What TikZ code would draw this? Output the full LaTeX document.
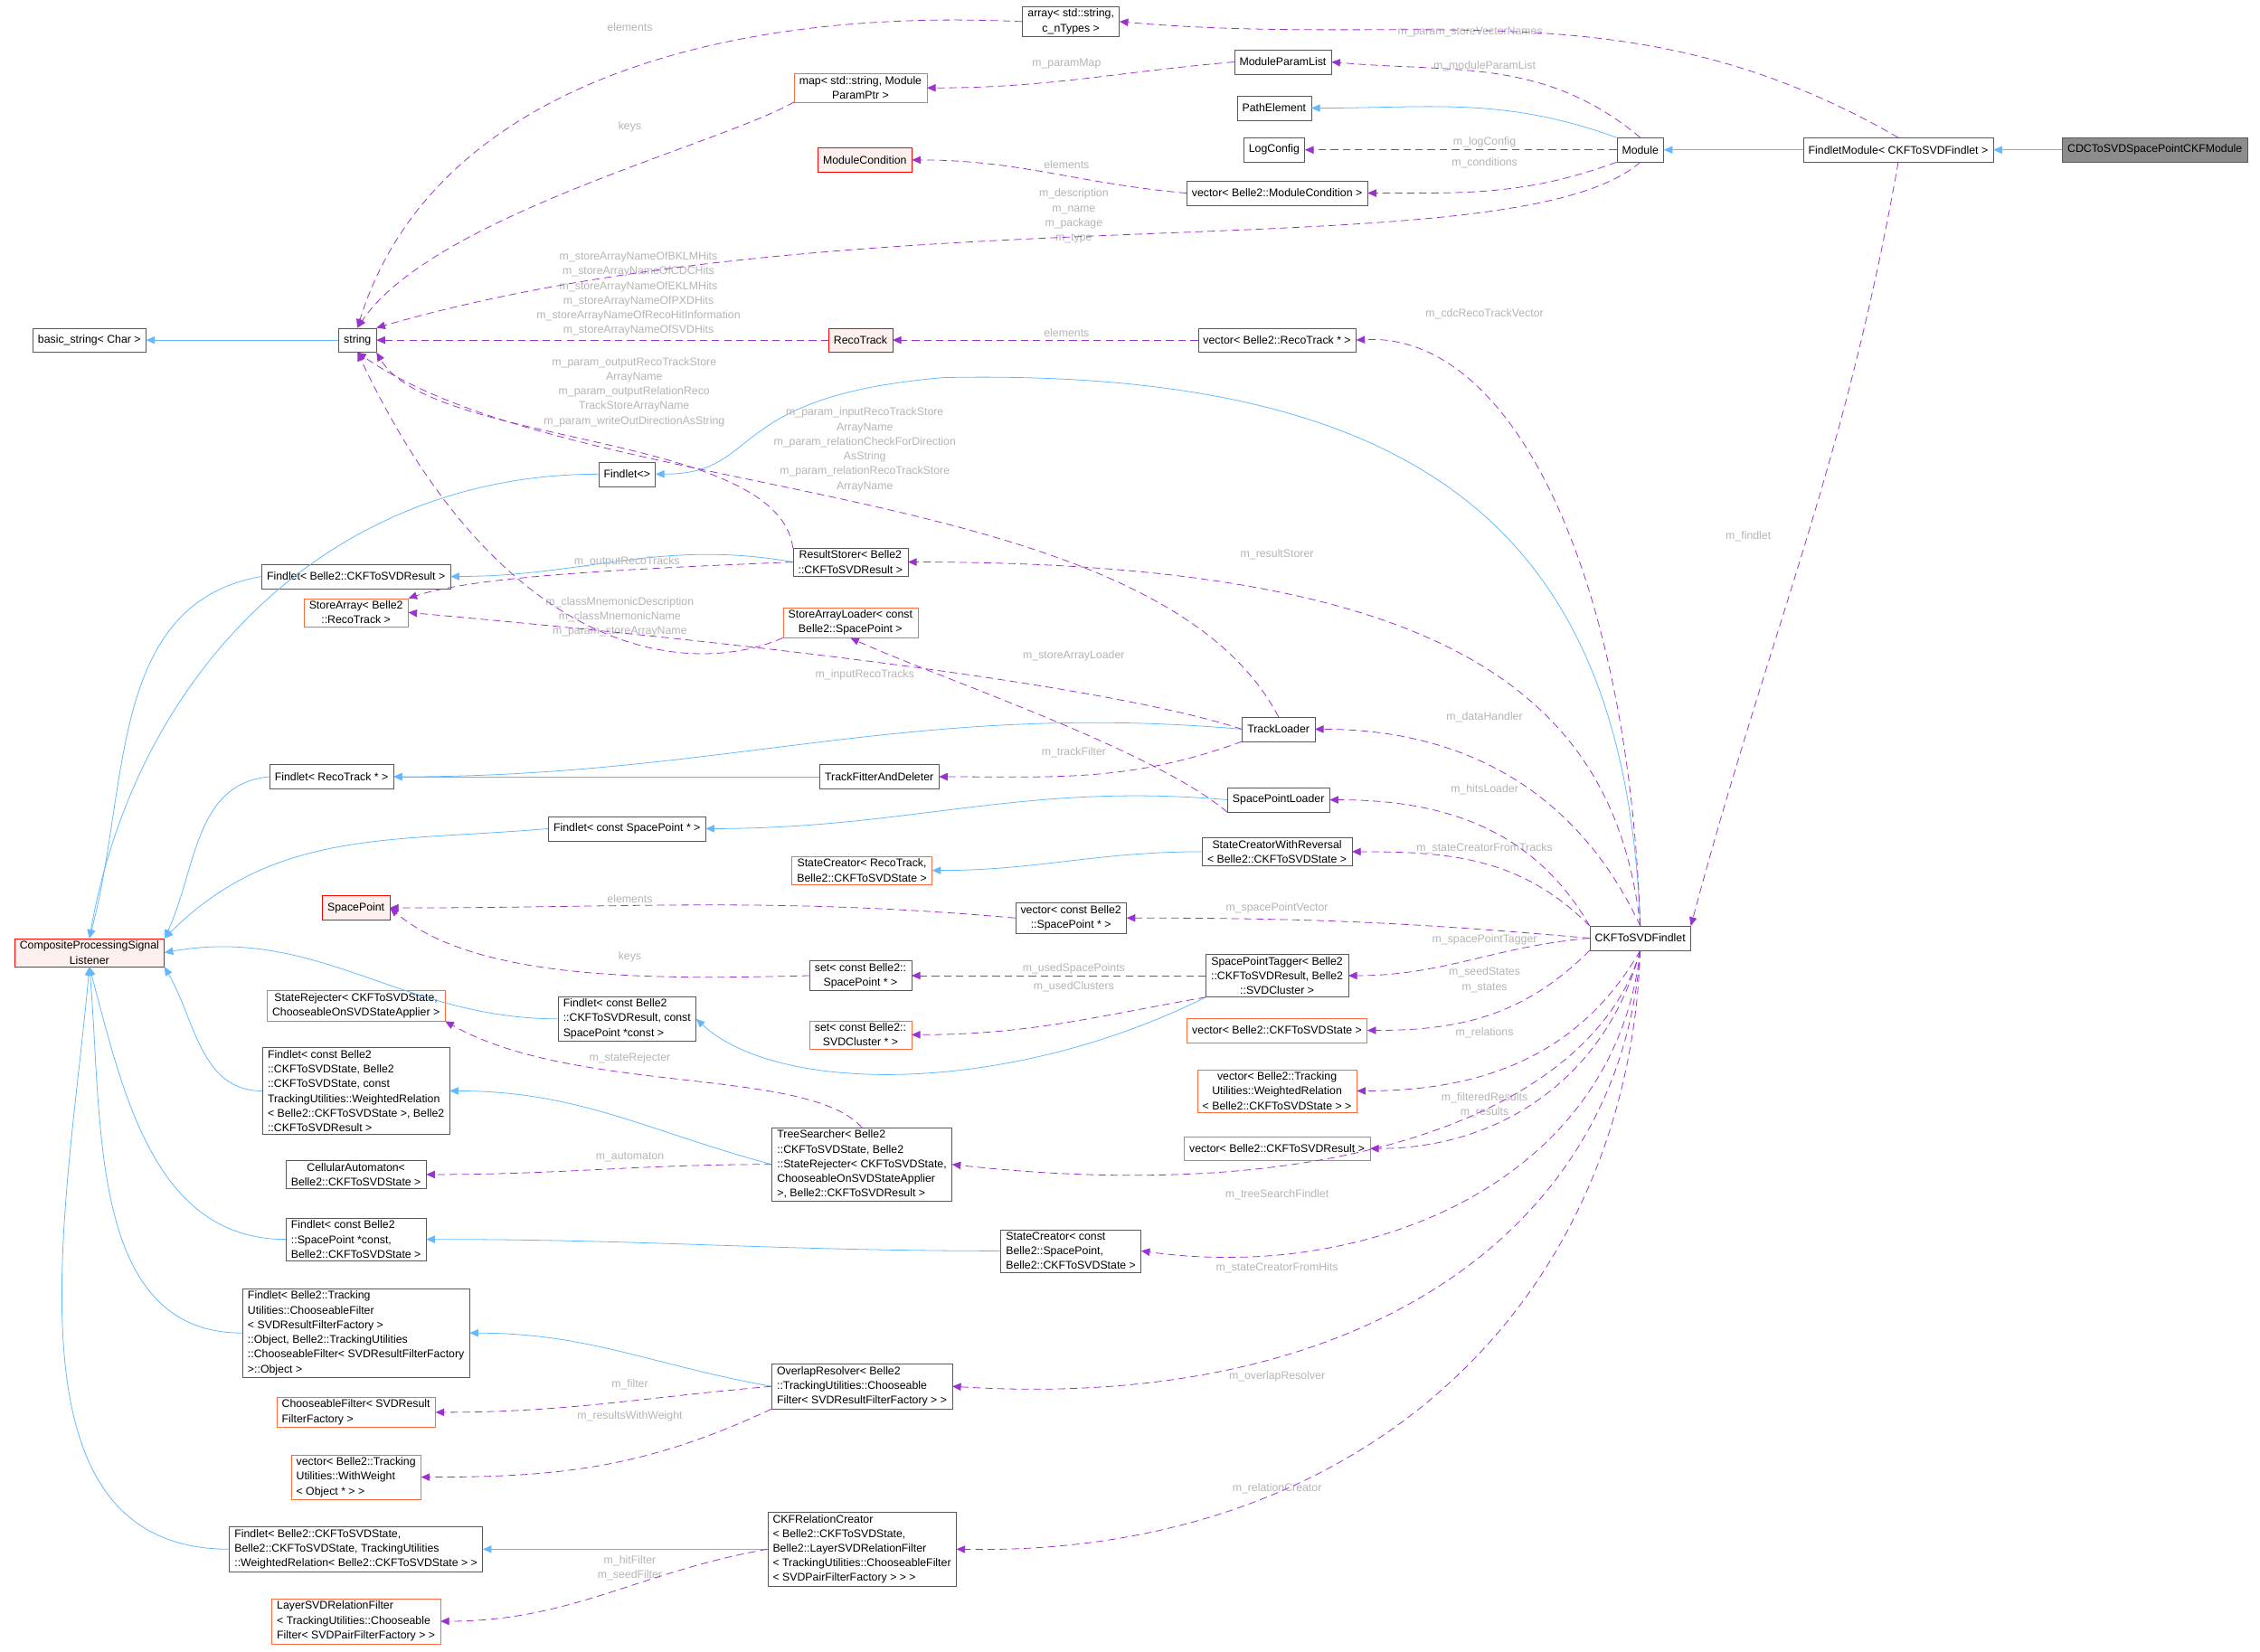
\documentclass[tikz,border=0pt]{standalone}
\usepackage{fontspec}
\setmainfont{Liberation Sans}
\usetikzlibrary{arrows.meta,positioning}
\definecolor{inhblue}{HTML}{63B8FF}
\definecolor{usepurple}{HTML}{9A32CD}
\definecolor{extorange}{HTML}{FF6B3D}
\definecolor{lblgray}{HTML}{B4B4B4}
\tikzset{
  box/.style={draw=black!65, fill=white, minimum height=8.4mm, inner xsep=1.8mm, inner ysep=0.9mm,
    align=center, font=\fontsize{11}{14.5}\selectfont},
  lbox/.style={box, align=left},
  ext/.style={box, draw=extorange},
  lext/.style={ext, align=left},
  bad/.style={box, draw=red, fill=red!6},
  cur/.style={box, fill=black!45},
  inh/.style={draw=inhblue, line width=0.7pt, -{Triangle[length=3mm,width=2.6mm]}},
  use/.style={draw=usepurple, line width=0.7pt, dash pattern=on 2.6mm off 1.6mm,
    -{Triangle[length=3mm,width=2.6mm]}},
  lbl/.style={text=lblgray, align=center, font=\fontsize{11}{14.5}\selectfont, inner sep=0pt}
}
\begin{document}
\begin{tikzpicture}[x=0.05cm,y=-0.05cm]
  \useasboundingbox (0,0) rectangle (1568,1146);

  % top row
  \node[cur] (cdc) at (1495,104) {CDCToSVDSpacePointCKFModule};
  \node[box] (fm) at (1317,104) {FindletModule< CKFToSVDFindlet >};
  \node[box] (mod) at (1138,104) {Module};
  \node[box] (arr) at (743,15) {array< std::string,\\c\_nTypes >};
  \node[box] (mpl) at (890,43) {ModuleParamList};
  \node[ext] (map) at (597,61) {map< std::string, Module\\ParamPtr >};
  \node[box] (pe) at (884,75) {PathElement};
  \node[box] (lc) at (884,104) {LogConfig};
  \node[bad] (mc) at (600,111) {ModuleCondition};
  \node[box] (vmc) at (886,134) {vector< Belle2::ModuleCondition >};
  \node[box] (bs) at (62,236) {basic\_string< Char >};
  \node[box] (str) at (248,236) {string};
  \node[bad] (rt) at (597,236) {RecoTrack};
  \node[box] (vrt) at (886,236) {vector< Belle2::RecoTrack * >};

  % middle
  \node[box] (fl) at (435,329) {Findlet<>};
  \node[box] (rs) at (590,390) {ResultStorer< Belle2\\::CKFToSVDResult >};
  \node[box] (fres) at (247,400) {Findlet< Belle2::CKFToSVDResult >};
  \node[ext] (sal) at (590,432) {StoreArrayLoader< const\\Belle2::SpacePoint >};
  \node[ext] (sa) at (247,425) {StoreArray< Belle2\\::RecoTrack >};
  \node[box] (tl) at (887,506) {TrackLoader};
  \node[box] (tfd) at (610,539) {TrackFitterAndDeleter};
  \node[box] (frt) at (230,539) {Findlet< RecoTrack * >};
  \node[box] (spl) at (887,555) {SpacePointLoader};
  \node[box] (fsp) at (435,575) {Findlet< const SpacePoint * >};
  \node[box] (scr) at (886,591) {StateCreatorWithReversal\\< Belle2::CKFToSVDState >};
  \node[ext] (scrt) at (598,604) {StateCreator< RecoTrack,\\Belle2::CKFToSVDState >};
  \node[bad] (sp) at (247,630) {SpacePoint};
  \node[box] (vsp) at (743,637) {vector< const Belle2\\::SpacePoint * >};
  \node[bad] (cpsl) at (62,661) {CompositeProcessingSignal\\Listener};
  \node[box] (ckf) at (1138,651) {CKFToSVDFindlet};
  \node[box] (ssp) at (597,677) {set< const Belle2::\\SpacePoint * >};
  \node[box] (spt) at (886,677) {SpacePointTagger< Belle2\\::CKFToSVDResult, Belle2\\::SVDCluster >};
  \node[ext] (srj) at (247,698) {StateRejecter< CKFToSVDState,\\ChooseableOnSVDStateApplier >};
  \node[lbox] (fcr) at (435,707) {Findlet< const Belle2\\::CKFToSVDResult, const\\SpacePoint *const >};
  \node[ext] (ssc) at (597,718) {set< const Belle2::\\SVDCluster * >};
  \node[ext] (vst) at (886,715) {vector< Belle2::CKFToSVDState >};
  \node[ext] (vwr) at (886,757) {vector< Belle2::Tracking\\Utilities::WeightedRelation\\< Belle2::CKFToSVDState > >};
  \node[lbox] (fcs) at (247,757) {Findlet< const Belle2\\::CKFToSVDState, Belle2\\::CKFToSVDState, const\\TrackingUtilities::WeightedRelation\\< Belle2::CKFToSVDState >, Belle2\\::CKFToSVDResult >};
  \node[ext] (vres) at (886,797) {vector< Belle2::CKFToSVDResult >};
  \node[lbox] (ts) at (598,808) {TreeSearcher< Belle2\\::CKFToSVDState, Belle2\\::StateRejecter< CKFToSVDState,\\ChooseableOnSVDStateApplier\\>, Belle2::CKFToSVDResult >};
  \node[box] (ca) at (247,815) {CellularAutomaton<\\Belle2::CKFToSVDState >};
  \node[lbox] (fspc) at (247,860) {Findlet< const Belle2\\::SpacePoint *const,\\Belle2::CKFToSVDState >};
  \node[lbox] (scsp) at (743,868) {StateCreator< const\\Belle2::SpacePoint,\\Belle2::CKFToSVDState >};

  % bottom
  \node[lbox] (fcf) at (247,925) {Findlet< Belle2::Tracking\\Utilities::ChooseableFilter\\< SVDResultFilterFactory >\\::Object, Belle2::TrackingUtilities\\::ChooseableFilter< SVDResultFilterFactory\\>::Object >};
  \node[lbox] (ovr) at (598,962) {OverlapResolver< Belle2\\::TrackingUtilities::Chooseable\\Filter< SVDResultFilterFactory > >};
  \node[lext] (chf) at (247,980) {ChooseableFilter< SVDResult\\FilterFactory >};
  \node[lext] (vww) at (247,1025) {vector< Belle2::Tracking\\Utilities::WithWeight\\< Object * > >};
  \node[lbox] (fwr) at (247,1075) {Findlet< Belle2::CKFToSVDState,\\Belle2::CKFToSVDState, TrackingUtilities\\::WeightedRelation< Belle2::CKFToSVDState > >};
  \node[lbox] (crc) at (598,1075) {CKFRelationCreator\\< Belle2::CKFToSVDState,\\Belle2::LayerSVDRelationFilter\\< TrackingUtilities::ChooseableFilter\\< SVDPairFilterFactory > > >};
  \node[lext] (lsf) at (247,1125) {LayerSVDRelationFilter\\< TrackingUtilities::Chooseable\\Filter< SVDPairFilterFactory > >};

  % inheritance
  \draw[inh] (cdc) -- (fm);
  \draw[inh] (fm) -- (mod);
  \draw[inh] (mod.north west) to[out=160,in=0] (pe.east);
  \draw[inh] (str) -- (bs);
  \draw[inh] (ckf.north) .. controls (1128,380) and (1000,255) .. (655,262) .. controls (500,275) and (530,329) .. (fl.east);
  \draw[inh] (fl.west) to[out=180,in=80] (cpsl.north);
  \draw[inh] (rs.west) to[out=170,in=0] (fres.east);
  \draw[inh] (fres.west) to[out=190,in=75] (cpsl.north);
  \draw[inh] (tl.west) to[out=175,in=0] (frt.east);
  \draw[inh] (tfd) -- (frt);
  \draw[inh] (frt.west) to[out=185,in=65] (cpsl.north east);
  \draw[inh] (spl.west) to[out=175,in=0] (fsp.east);
  \draw[inh] (fsp.west) to[out=185,in=45] (cpsl.north east);
  \draw[inh] (scr.west) to[out=180,in=0] (scrt.east);
  \draw[inh] (spt.south west) .. controls (700,760) and (540,760) .. (fcr.east);
  \draw[inh] (fcr.west) to[out=180,in=10] (cpsl.east);
  \draw[inh] (ts.west) to[out=165,in=0] (fcs.east);
  \draw[inh] (fcs.west) to[out=180,in=-60] (cpsl.south east);
  \draw[inh] (scsp.west) to[out=180,in=0] (fspc.east);
  \draw[inh] (fspc.west) to[out=180,in=-75] (cpsl.south);
  \draw[inh] (ovr.west) to[out=170,in=0] (fcf.east);
  \draw[inh] (fcf.west) to[out=180,in=-85] (cpsl.south);
  \draw[inh] (crc.west) to[out=180,in=0] (fwr.east);
  \draw[inh] (fwr.west) to[out=180,in=-95] (cpsl.south);

  % usage labels
  \node[lbl] (l01) at (1020,22) {m\_param\_storeVectorNames};
  \node[lbl] (l02) at (1030,46) {m\_moduleParamList};
  \node[lbl] (l03) at (740,44) {m\_paramMap};
  \node[lbl] (l04) at (1030,99) {m\_logConfig};
  \node[lbl] (l05) at (1030,113) {m\_conditions};
  \node[lbl] (l06) at (740,114) {elements};
  \node[lbl] (l07) at (745,150) {m\_description\\m\_name\\m\_package\\m\_type};
  \node[lbl] (l08) at (437,19) {elements};
  \node[lbl] (l09) at (437,88) {keys};
  \node[lbl] (l10) at (443,204) {m\_storeArrayNameOfBKLMHits\\m\_storeArrayNameOfCDCHits\\m\_storeArrayNameOfEKLMHits\\m\_storeArrayNameOfPXDHits\\m\_storeArrayNameOfRecoHitInformation\\m\_storeArrayNameOfSVDHits};
  \node[lbl] (l11) at (740,231) {elements};
  \node[lbl] (l12) at (1030,218) {m\_cdcRecoTrackVector};
  \node[lbl] (l13) at (440,272) {m\_param\_outputRecoTrackStore\\ArrayName\\m\_param\_outputRelationReco\\TrackStoreArrayName\\m\_param\_writeOutDirectionAsString};
  \node[lbl] (l14) at (600,312) {m\_param\_inputRecoTrackStore\\ArrayName\\m\_param\_relationCheckForDirection\\AsString\\m\_param\_relationRecoTrackStore\\ArrayName};
  \node[lbl] (l15) at (435,390) {m\_outputRecoTracks};
  \node[lbl] (l16) at (430,428) {m\_classMnemonicDescription\\m\_classMnemonicName\\m\_param\_storeArrayName};
  \node[lbl] (l17) at (886,385) {m\_resultStorer};
  \node[lbl] (l18) at (1213,372) {m\_findlet};
  \node[lbl] (l19) at (745,455) {m\_storeArrayLoader};
  \node[lbl] (l20) at (600,468) {m\_inputRecoTracks};
  \node[lbl] (l21) at (1030,498) {m\_dataHandler};
  \node[lbl] (l22) at (745,522) {m\_trackFilter};
  \node[lbl] (l23) at (1030,548) {m\_hitsLoader};
  \node[lbl] (l24) at (1030,589) {m\_stateCreatorFromTracks};
  \node[lbl] (l25) at (437,624) {elements};
  \node[lbl] (l26) at (886,630) {m\_spacePointVector};
  \node[lbl] (l27) at (1030,652) {m\_spacePointTagger};
  \node[lbl] (l28) at (437,664) {keys};
  \node[lbl] (l29) at (745,672) {m\_usedSpacePoints};
  \node[lbl] (l30) at (745,685) {m\_usedClusters};
  \node[lbl] (l31) at (1030,680) {m\_seedStates\\m\_states};
  \node[lbl] (l32) at (1030,717) {m\_relations};
  \node[lbl] (l33) at (437,734) {m\_stateRejecter};
  \node[lbl] (l34) at (1030,767) {m\_filteredResults\\m\_results};
  \node[lbl] (l35) at (437,803) {m\_automaton};
  \node[lbl] (l36) at (886,829) {m\_treeSearchFindlet};
  \node[lbl] (l37) at (886,880) {m\_stateCreatorFromHits};
  \node[lbl] (l38) at (886,955) {m\_overlapResolver};
  \node[lbl] (l39) at (437,961) {m\_filter};
  \node[lbl] (l40) at (437,983) {m\_resultsWithWeight};
  \node[lbl] (l41) at (886,1033) {m\_relationCreator};
  \node[lbl] (l42) at (437,1088) {m\_hitFilter\\m\_seedFilter};

  % usage
  \draw[use] (fm.north) to[out=150,in=-5] (arr.east);
  \draw[use] (mod.north) to[out=140,in=-5] (mpl.east);
  \draw[use] (mpl.west) to[out=185,in=0] (map.east);
  \draw[use] (mod.west) -- (lc.east);
  \draw[use] (mod.south west) to[out=200,in=0] (vmc.east);
  \draw[use] (vmc.west) to[out=175,in=0] (mc.east);
  \draw[use] (mod.south) .. controls (1050,190) and (600,130) .. (str.north east);
  \draw[use] (arr.west) .. controls (500,5) and (300,60) .. (str.north);
  \draw[use] (map.south west) .. controls (500,100) and (300,150) .. (str.north);
  \draw[use] (rt.west) -- (str.east);
  \draw[use] (vrt.west) -- (rt.east);
  \draw[use] (rs.north west) .. controls (540,300) and (300,310) .. (str.south east);
  \draw[use] (tl.north) .. controls (800,330) and (400,350) .. (str.south);
  \draw[use] (sal.south west) .. controls (480,470) and (350,460) .. (str.south);
  \draw[use] (rs.west) .. controls (430,395) and (330,400) .. (sa.north east);
  \draw[use] (tl.west) .. controls (750,470) and (450,440) .. (sa.east);
  \draw[use] (tl.south west) to[out=200,in=0] (tfd.east);
  \draw[use] (spl.south west) .. controls (800,520) and (650,470) .. (sal.south);
  \draw[use] (vsp.west) to[out=175,in=0] (sp.east);
  \draw[use] (ssp.west) .. controls (450,680) and (330,680) .. (sp.east);
  \draw[use] (spt.west) to[out=180,in=0] (ssp.east);
  \draw[use] (spt.south west) to[out=190,in=0] (ssc.east);
  \draw[use] (ts.north) .. controls (560,740) and (400,760) .. (srj.south east);
  \draw[use] (ts.west) to[out=180,in=0] (ca.east);
  \draw[use] (ovr.west) to[out=185,in=0] (chf.east);
  \draw[use] (ovr.south west) to[out=205,in=0] (vww.east);
  \draw[use] (crc.west) to[out=190,in=0] (lsf.east);
  \draw[use] (fm.south) to[out=-100,in=75] (ckf.north east);
  \draw[use] (ckf.north) .. controls (1130,400) and (1050,230) .. (vrt.east);
  \draw[use] (ckf.north) .. controls (1120,480) and (1000,390) .. (rs.east);
  \draw[use] (ckf.north) to[out=115,in=0] (tl.east);
  \draw[use] (ckf.north west) to[out=120,in=0] (spl.east);
  \draw[use] (ckf.north west) to[out=135,in=0] (scr.east);
  \draw[use] (ckf.west) to[out=175,in=0] (vsp.east);
  \draw[use] (ckf.west) to[out=185,in=0] (spt.east);
  \draw[use] (ckf.south west) to[out=-135,in=0] (vst.east);
  \draw[use] (ckf.south) to[out=-120,in=0] (vwr.east);
  \draw[use] (ckf.south) to[out=-105,in=0] (vres.east);
  \draw[use] (ckf.south) .. controls (1110,760) and (950,840) .. (ts.east);
  \draw[use] (ckf.south) .. controls (1120,820) and (950,890) .. (scsp.east);
  \draw[use] (ckf.south) .. controls (1125,850) and (950,980) .. (ovr.east);
  \draw[use] (ckf.south) .. controls (1130,900) and (950,1080) .. (crc.east);
\end{tikzpicture}
\end{document}
